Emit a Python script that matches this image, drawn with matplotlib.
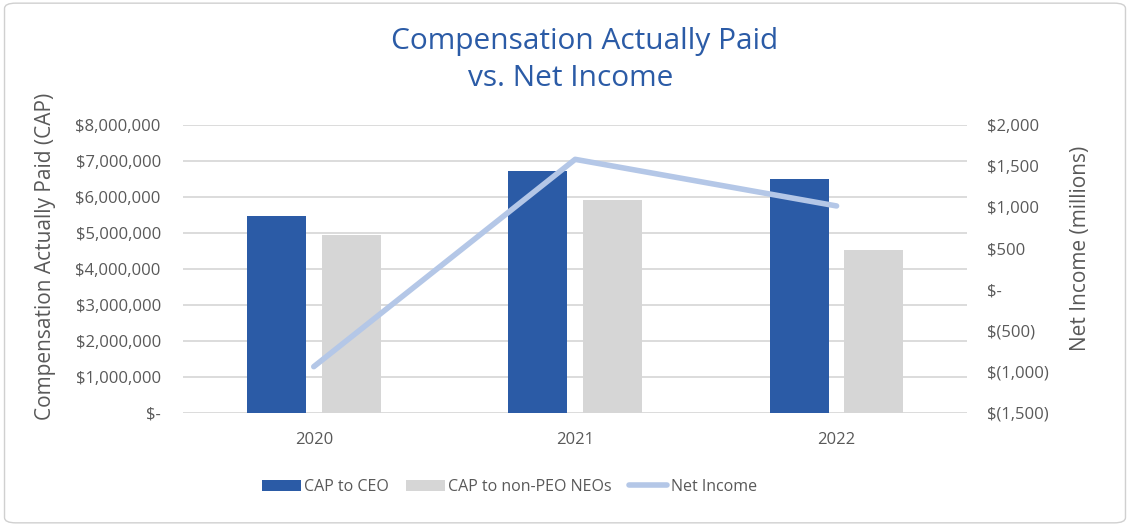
import numpy as np
import matplotlib
matplotlib.use("Agg")
from matplotlib import pyplot as plt
from matplotlib.patches import FancyBboxPatch
from matplotlib.ticker import FuncFormatter

years = ["2020", "2021", "2022"]
cap_ceo = [5470000, 6720000, 6490000]
cap_neo = [4940000, 5910000, 4510000]
net_income = [-940, 1582, 1015]

blue = "#2B5BA6"
grey = "#D6D6D6"
light = "#B4C7E7"
txt = "#595959"

plt.rcParams['font.family'] = ['Open Sans', 'DejaVu Sans']

fig = plt.figure(figsize=(11.3, 5.26), dpi=100)
fig.patches.append(FancyBboxPatch((0.004, 0.006), 0.992, 0.988,
                                  boxstyle="round,pad=0,rounding_size=0.01",
                                  transform=fig.transFigure, fill=False,
                                  edgecolor="#D0D0D0", linewidth=1))
ax = fig.add_axes([0.162, 0.2154, 0.694, 0.547])
x = np.arange(len(years))
w = 0.226
b1 = ax.bar(x - 0.143, cap_ceo, w, color=blue, label="CAP to CEO", zorder=2)
b2 = ax.bar(x + 0.143, cap_neo, w, color=grey, label="CAP to non-PEO NEOs", zorder=2)
ax.set_xlim(-0.5, 2.5)
ax.set_ylim(0, 8000000)
ax.set_yticks(np.arange(0, 8000001, 1000000))
ax.yaxis.set_major_formatter(FuncFormatter(lambda v, p: "$-" if v == 0 else "${:,.0f}".format(v)))
ax.grid(axis="y", color="#D9D9D9", linewidth=1.3, zorder=0)
ax.set_axisbelow(True)
for s in ax.spines.values():
    s.set_visible(False)
ax.tick_params(length=0, colors=txt, labelsize=12)
ax.tick_params(axis="y", pad=16)
ax.tick_params(axis="x", pad=14)
ax.set_xticks(x)
ax.set_xticklabels(years)
ax.set_ylabel("Compensation Actually Paid (CAP)", color=txt, fontsize=15)
ax.yaxis.set_label_coords(-0.162, 0.545)

ax2 = ax.twinx()
l1, = ax2.plot(x, net_income, color=light, linewidth=4, solid_capstyle="round",
               label="Net Income", zorder=3)
ax2.set_ylim(-1500, 2000)
ax2.set_yticks(np.arange(-1500, 2001, 500))
def fmt_r(v, p):
    if v == 0:
        return "$-"
    if v < 0:
        return "$({:,.0f})".format(-v)
    return "${:,.0f}".format(v)
ax2.yaxis.set_major_formatter(FuncFormatter(fmt_r))
for s in ax2.spines.values():
    s.set_visible(False)
ax2.tick_params(length=0, colors=txt, labelsize=12, pad=14)
for t in ax2.get_yticklabels():
    t.set_horizontalalignment("left")
ax2.set_ylabel("Net Income (millions)", color=txt, fontsize=15)
ax2.yaxis.set_label_coords(1.131, 0.572)

fig.text(0.517, 0.922, "Compensation Actually Paid", ha="center", va="center",
         color=blue, fontsize=21.5)
fig.text(0.505, 0.851, "vs. Net Income", ha="center", va="center",
         color=blue, fontsize=21.5)

fig.legend(handles=[b1, b2, l1], loc="center", bbox_to_anchor=(0.451, 0.074),
           ncol=3, frameon=False, fontsize=11.5, labelcolor=txt,
           handlelength=2.4, handleheight=0.75, handletextpad=0.2, columnspacing=1.1)

fig.savefig("out.png", dpi=100)
